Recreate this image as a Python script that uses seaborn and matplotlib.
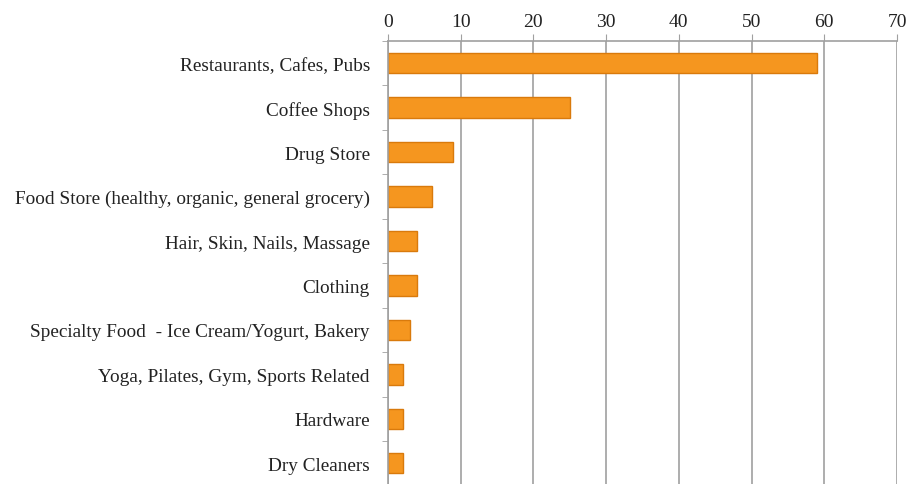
import pandas as pd
import numpy as np
import matplotlib
matplotlib.use("Agg")
import matplotlib.pyplot as plt
import seaborn as sns
from matplotlib.ticker import FixedLocator

categories = ['Restaurants, Cafes, Pubs', 'Coffee Shops', 'Drug Store',
              'Food Store (healthy, organic, general grocery)',
              'Hair, Skin, Nails, Massage', 'Clothing',
              'Specialty Food  - Ice Cream/Yogurt, Bakery',
              'Yoga, Pilates, Gym, Sports Related', 'Hardware', 'Dry Cleaners']
counts = [59, 25, 9, 6, 4, 4, 3, 2, 2, 2]
xticks = [0, 10, 20, 30, 40, 50, 60, 70]

sns.set_style("white")
plt.rcParams['font.family'] = ['Liberation Serif', 'DejaVu Serif']

df = pd.DataFrame({'category': categories, 'count': counts})

fig = plt.figure(figsize=(9.09, 4.85), dpi=100)
ax = fig.add_axes([0.4268, -0.003, 0.56, 0.9163])

sns.barplot(data=df, y='category', x='count', orient='h', ax=ax,
            color='#F5961F', edgecolor='#D97A0C', linewidth=1.0,
            width=0.46, saturation=1)

ax.set_xlim(0, 70)
ax.set_ylim(len(categories) - 0.5, -0.5)
ax.set_xticks(xticks)
ax.xaxis.tick_top()
ax.grid(axis='x', color='#A0A0A0', linewidth=1.2)
ax.set_axisbelow(True)
ax.set_xlabel('')
ax.set_ylabel('')

for s in ['right', 'bottom']:
    ax.spines[s].set_visible(False)
for s in ['top', 'left']:
    ax.spines[s].set_color('#A0A0A0')
    ax.spines[s].set_linewidth(1.2)

ax.tick_params(axis='x', which='major', length=5, color='#A0A0A0', labelsize=14,
               pad=3, labelcolor='#222222')
ax.tick_params(axis='y', which='major', length=0, labelsize=13.9, pad=13,
               labelcolor='#222222')
ax.yaxis.set_minor_locator(FixedLocator(np.arange(-0.5, len(categories), 1.0)))
ax.tick_params(axis='y', which='minor', length=4, color='#A0A0A0', left=True)

fig.savefig('out.png', dpi=100)
